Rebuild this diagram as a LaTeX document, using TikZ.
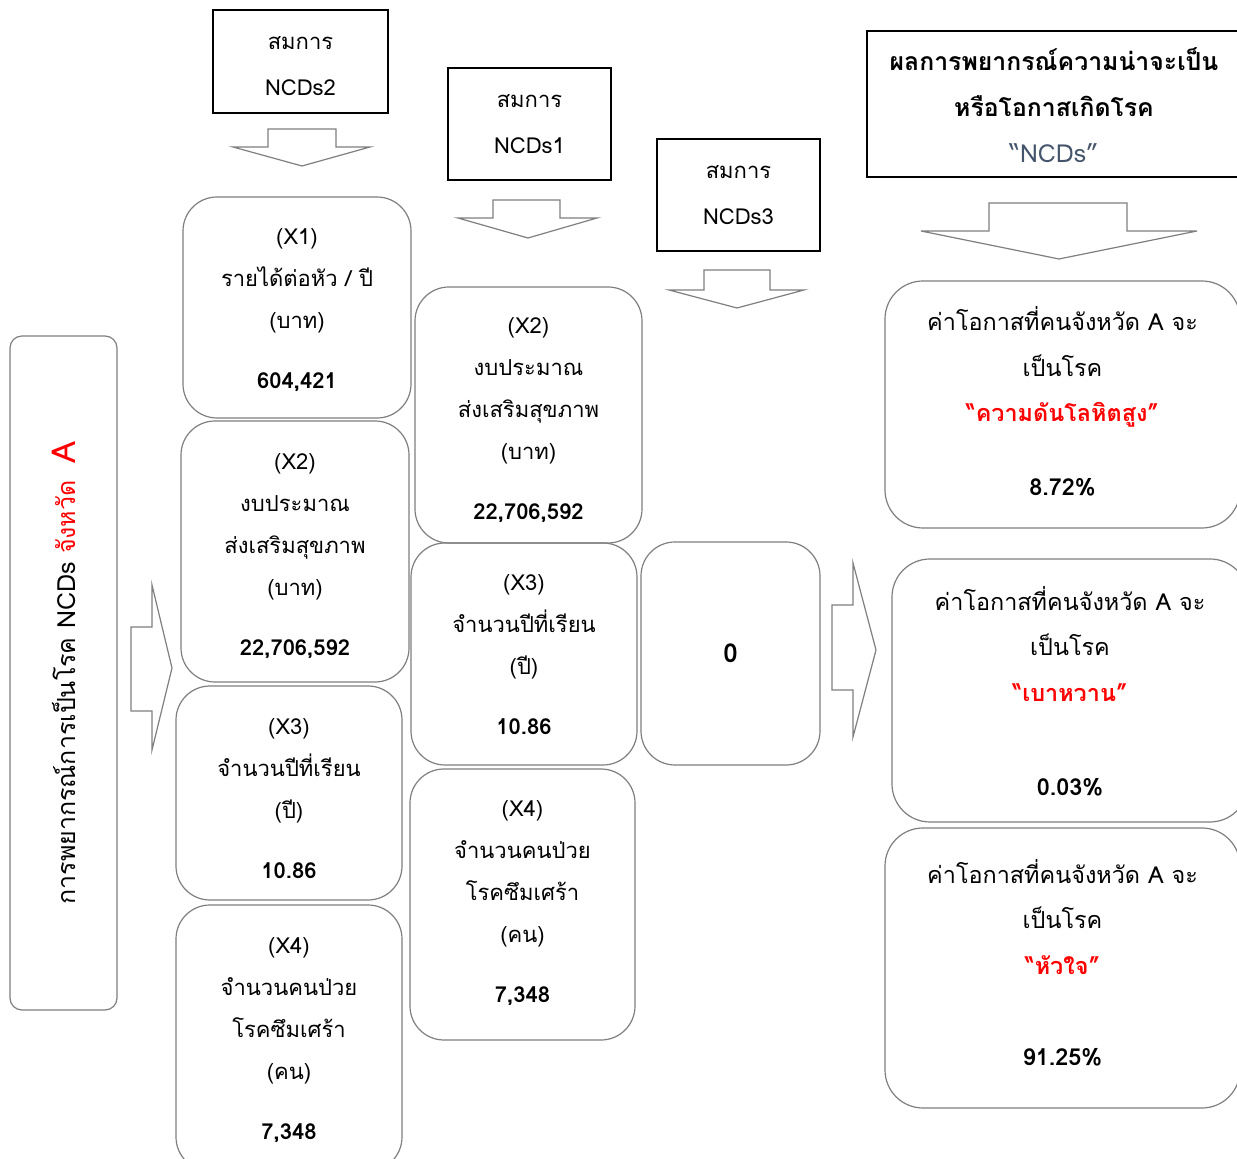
\documentclass[tikz,border=0pt]{standalone}
\usepackage{fontspec}
\setmainfont[Script=Thai]{Loma}
\definecolor{boxline}{HTML}{7F7F7F}
\definecolor{ncdblue}{HTML}{44546A}
\definecolor{thred}{HTML}{FF0000}
\begin{document}
\begin{tikzpicture}[x=0.5pt,y=-0.5pt,
  rbox/.style={draw=boxline, line width=0.6pt, rounded corners=17pt, inner sep=0pt},
  gbox/.style={draw=boxline, line width=0.6pt, rounded corners=19pt, inner sep=0pt},
  sbox/.style={draw=black, line width=1pt, inner sep=0pt},
  rtxt/.style={align=center, inner sep=0pt, font=\fontsize{11}{21}\selectfont},
  gtxt/.style={align=center, inner sep=0pt, font=\fontsize{11.7}{22.75}\selectfont},
  stxt/.style={align=center, inner sep=0pt, font=\fontsize{11}{23}\selectfont},
  barrow/.style={draw=boxline, line width=0.6pt, fill=white, line join=miter}]
\useasboundingbox (0,0) rectangle (1237,1159);
\fill[white] (0,0) rectangle (1237,1159);

% left label box
\node[draw=boxline, line width=0.6pt, rounded corners=6pt, minimum width=53.5pt, minimum height=337pt]
  (lbox) at (63.5,673) {};
\node[rotate=90, font=\fontsize{12.5}{14}\selectfont, anchor=center] (ltext) at (lbox.center)
  {การพยากรณ์การเป็นโรค NCDs {\color{thred}จังหวัด\ \ {\fontsize{16.5}{16}\selectfont A}}};

% top equation boxes
\node[sbox, minimum width=87.5pt, minimum height=51.5pt] (n2) at (300.5,61.5) {};
\node[stxt, yshift=-2.5pt] (n2t) at (n2.center) {สมการ\\NCDs2};
\node[sbox, minimum width=81.5pt, minimum height=56pt] (n1) at (529.5,124) {};
\node[stxt] (n1t) at (n1.center) {สมการ\\NCDs1};
\node[sbox, minimum width=81.5pt, minimum height=56pt] (n3) at (738.5,195) {};
\node[stxt] (n3t) at (n3.center) {สมการ\\NCDs3};
\node[sbox, minimum width=189pt, minimum height=73pt] (res) at (1056,104) {};
\node[align=center, font=\fontsize{12.4}{23}\selectfont, inner sep=0pt, yshift=1.2pt] (restext) at (1054,108)
  {\bfseries ผลการพยากรณ์ความน่าจะเป็น\\ \bfseries หรือโอกาสเกิดโรค\\ {\color{ncdblue}“NCDs”}};

% column 1
\node[rbox, minimum width=114pt, minimum height=110.5pt] (c1a) at (297,307.5) {};
\node[rtxt, yshift=-1.2pt] (c1at) at (c1a.center)
  {(X1)\\รายได้ต่อหัว / ปี\\(บาท)\\[9pt] {\bfseries 604,421}};
\node[rbox, minimum width=114pt, minimum height=130.5pt] (c1b) at (295,551.5) {};
\node[rtxt, yshift=-2.2pt] (c1bt) at (c1b.center)
  {(X2)\\งบประมาณ\\ส่งเสริมสุขภาพ\\(บาท)\\[9pt] {\bfseries 22,706,592}};
\node[rbox, minimum width=113pt, minimum height=107pt] (c1c) at (289,793) {};
\node[rtxt, yshift=-2.7pt] (c1ct) at (c1c.center)
  {(X3)\\จำนวนปีที่เรียน\\(ปี)\\[9pt] {\bfseries 10.86}};
\node[rbox, minimum width=113pt, minimum height=133pt] (c1d) at (289,1038) {};
\node[rtxt, yshift=-1pt] (c1dt) at (c1d.center)
  {(X4)\\จำนวนคนป่วย\\โรคซึมเศร้า\\(คน)\\[9pt] {\bfseries 7,348}};

% column 2
\node[rbox, minimum width=113.5pt, minimum height=128pt] (c2a) at (528.5,415) {};
\node[rtxt, yshift=-2.7pt] (c2at) at (c2a.center)
  {(X2)\\งบประมาณ\\ส่งเสริมสุขภาพ\\(บาท)\\[9pt] {\bfseries 22,706,592}};
\node[rbox, minimum width=113pt, minimum height=111pt] (c2b) at (524,654) {};
\node[rtxt, yshift=-0.5pt] (c2bt) at (c2b.center)
  {(X3)\\จำนวนปีที่เรียน\\(ปี)\\[9pt] {\bfseries 10.86}};
\node[rbox, minimum width=112.5pt, minimum height=135.5pt] (c2c) at (522.5,904.5) {};
\node[rtxt, yshift=0.5pt] (c2ct) at (c2c.center)
  {(X4)\\จำนวนคนป่วย\\โรคซึมเศร้า\\(คน)\\[9pt] {\bfseries 7,348}};

% column 3
\node[rbox, minimum width=89.5pt, minimum height=111.5pt] (c3) at (730.5,653.5) {};
\node[font=\fontsize{13}{15}\selectfont\bfseries, inner sep=0pt] (c3t) at (c3.center) {0};

% result column
\node[gbox, minimum width=177.5pt, minimum height=123.5pt] (r1) at (1062.5,404.5) {};
\node[gtxt, yshift=1.5pt] (r1t) at (r1.center)
  {ค่าโอกาสที่คนจังหวัด A จะ\\เป็นโรค\\{\color{thred}\bfseries “ความดันโลหิตสูง”}\\[14pt] {\bfseries 8.72\%}};
\node[gbox, minimum width=178pt, minimum height=131.5pt] (r2) at (1070,690.5) {};
\node[gtxt, yshift=-0.3pt] (r2t) at (r2.center)
  {ค่าโอกาสที่คนจังหวัด A จะ\\เป็นโรค\\{\color{thred}\bfseries “เบาหวาน”}\\[24.5pt] {\bfseries 0.03\%}};
\node[gbox, minimum width=177.5pt, minimum height=140pt] (r3) at (1062.5,968) {};
\node[gtxt, yshift=2.5pt] (r3t) at (r3.center)
  {ค่าโอกาสที่คนจังหวัด A จะ\\เป็นโรค\\{\color{thred}\bfseries “หัวใจ”}\\[23pt] {\bfseries 91.25\%}};

% block arrows
\draw[barrow] (268,129) -- (336,129) -- (336,147) -- (370,147) -- (302,166) -- (233,147) -- (268,147) -- cycle;
\draw[barrow] (493,200) -- (560,200) -- (560,218) -- (597,218) -- (528,238) -- (458,218) -- (493,218) -- cycle;
\draw[barrow] (704,270) -- (770,270) -- (770,290) -- (804,290) -- (737,308) -- (669,290) -- (704,290) -- cycle;
\draw[barrow] (989,203) -- (1127,203) -- (1127,231) -- (1197,231) -- (1059,259) -- (921,231) -- (989,231) -- cycle;
\draw[barrow] (131,627) -- (152,627) -- (152,585) -- (172,668) -- (152,750) -- (152,711) -- (131,711) -- cycle;
\draw[barrow] (832,605) -- (853,605) -- (853,563) -- (876,650) -- (853,737) -- (853,690) -- (832,690) -- cycle;
\end{tikzpicture}
\end{document}
